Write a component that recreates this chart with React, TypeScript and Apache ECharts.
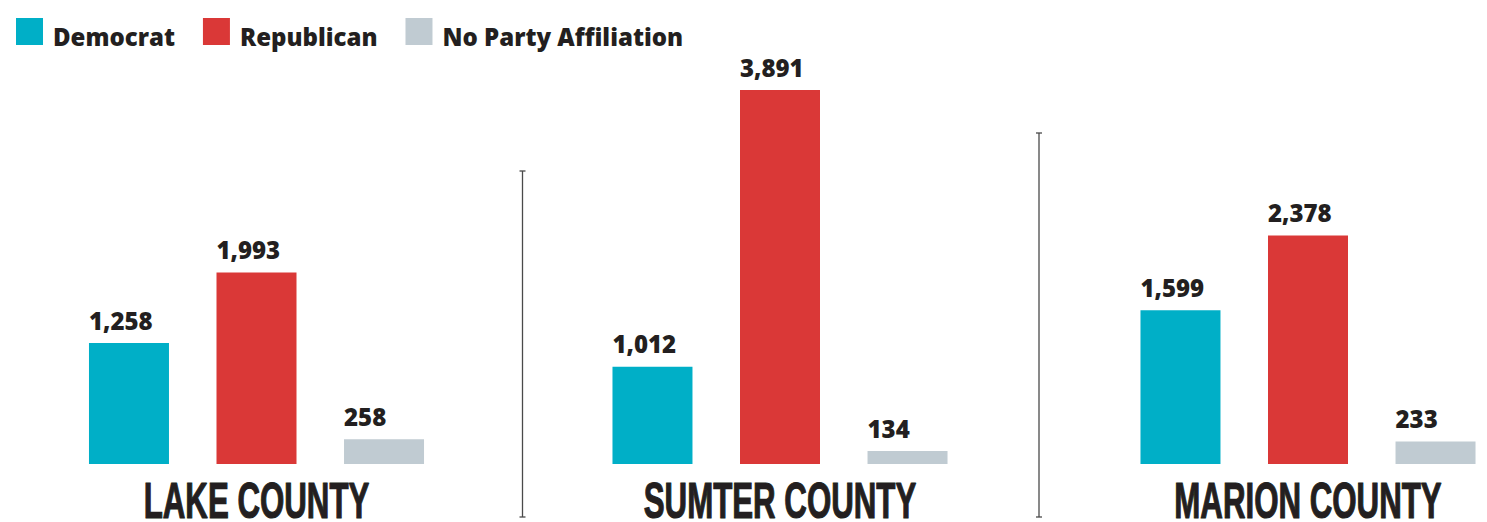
import React, { useEffect, useRef } from "react";
import * as echarts from "echarts";

const counties = ["LAKE COUNTY", "SUMTER COUNTY", "MARION COUNTY"];
const parties = ["Democrat", "Republican", "No Party Affiliation"];
const democrat = [1258, 1012, 1599];
const republican = [1993, 3891, 2378];
const noParty = [258, 134, 233];
const partyColors = ["#00AFC7", "#DA3837", "#C0CBD2"];

const W = 1487;
const H = 522;
const gridCenters = [256.5, 780, 1308];
const gridWidth = 340;
const gridTop = 90;
const gridBottom = 58;

export default function App() {
  const ref = useRef<HTMLDivElement>(null);
  useEffect(() => {
    document.body.style.margin = "0";
    if (!ref.current) return;
    const chart = echarts.init(ref.current, null, { renderer: "svg" });
    const values = [democrat, republican, noParty];
    const maxV = Math.max(...democrat, ...republican, ...noParty);
    const textColor = "#231F20";

    const grids = gridCenters.map((c) => ({
      left: c - gridWidth / 2,
      width: gridWidth,
      top: gridTop,
      bottom: gridBottom,
    }));
    const xAxes = counties.map((name, i) => ({
      type: "category",
      gridIndex: i,
      data: [name],
      axisLine: { show: false },
      axisTick: { show: false },
      axisLabel: { show: false },
    }));
    const yAxes = counties.map((_, i) => ({
      type: "value",
      gridIndex: i,
      min: 0,
      max: maxV,
      show: false,
      splitLine: { show: false },
    }));
    const series: any[] = [];
    counties.forEach((_, ci) => {
      parties.forEach((p, pi) => {
        series.push({
          type: "bar",
          name: p,
          xAxisIndex: ci,
          yAxisIndex: ci,
          data: [values[pi][ci]],
          barWidth: 80,
          barGap: "59.4%",
          itemStyle: { color: partyColors[pi] },
          label: {
            show: true,
            position: [0, -11],
            align: "left",
            verticalAlign: "bottom",
            fontFamily: "Open Sans",
            fontWeight: 800,
            fontSize: 24,
            color: textColor,
            formatter: (d: any) => Number(d.value).toLocaleString("en-US"),
          },
        });
      });
    });

    const graphic: any[] = [];
    counties.forEach((name, i) => {
      graphic.push({
        type: "text",
        x: gridCenters[i],
        y: 501,
        scaleX: 0.625,
        style: {
          text: name,
          font: 'bold 50px "Liberation Sans Narrow", "Liberation Sans", sans-serif',
          fill: textColor,
          stroke: textColor,
          lineWidth: 1.2,
          align: "center",
          verticalAlign: "middle",
        },
      });
    });
    const seps = [
      { x: 522.5, top: 171 },
      { x: 1039, top: 133 },
    ];
    seps.forEach((s) => {
      const st = { stroke: "#4a4a4a", lineWidth: 1.3 };
      graphic.push({ type: "line", shape: { x1: s.x, y1: s.top, x2: s.x, y2: 517 }, style: st });
      graphic.push({ type: "line", shape: { x1: s.x - 3, y1: s.top, x2: s.x + 3, y2: s.top }, style: st });
      graphic.push({ type: "line", shape: { x1: s.x - 3, y1: 517, x2: s.x + 3, y2: 517 }, style: st });
    });

    chart.setOption({
      animation: false,
      backgroundColor: "#ffffff",
      legend: {
        data: parties,
        left: 16,
        top: 18,
        padding: 0,
        itemWidth: 27,
        itemHeight: 27,
        itemGap: 28,
        icon: "rect",
        selectedMode: false,
        formatter: (name: string) => `{t|${name}}`,
        textStyle: {
          fontFamily: "Open Sans",
          fontWeight: 800,
          fontSize: 24,
          color: textColor,
          rich: {
            t: {
              fontFamily: "Open Sans",
              fontWeight: 800,
              fontSize: 24,
              color: textColor,
              padding: [9, 0, 0, 5],
            },
          },
        },
      },
      grid: grids,
      xAxis: xAxes,
      yAxis: yAxes,
      series,
      graphic,
    });
    return () => chart.dispose();
  }, []);
  return <div ref={ref} style={{ width: W, height: H }} />;
}
